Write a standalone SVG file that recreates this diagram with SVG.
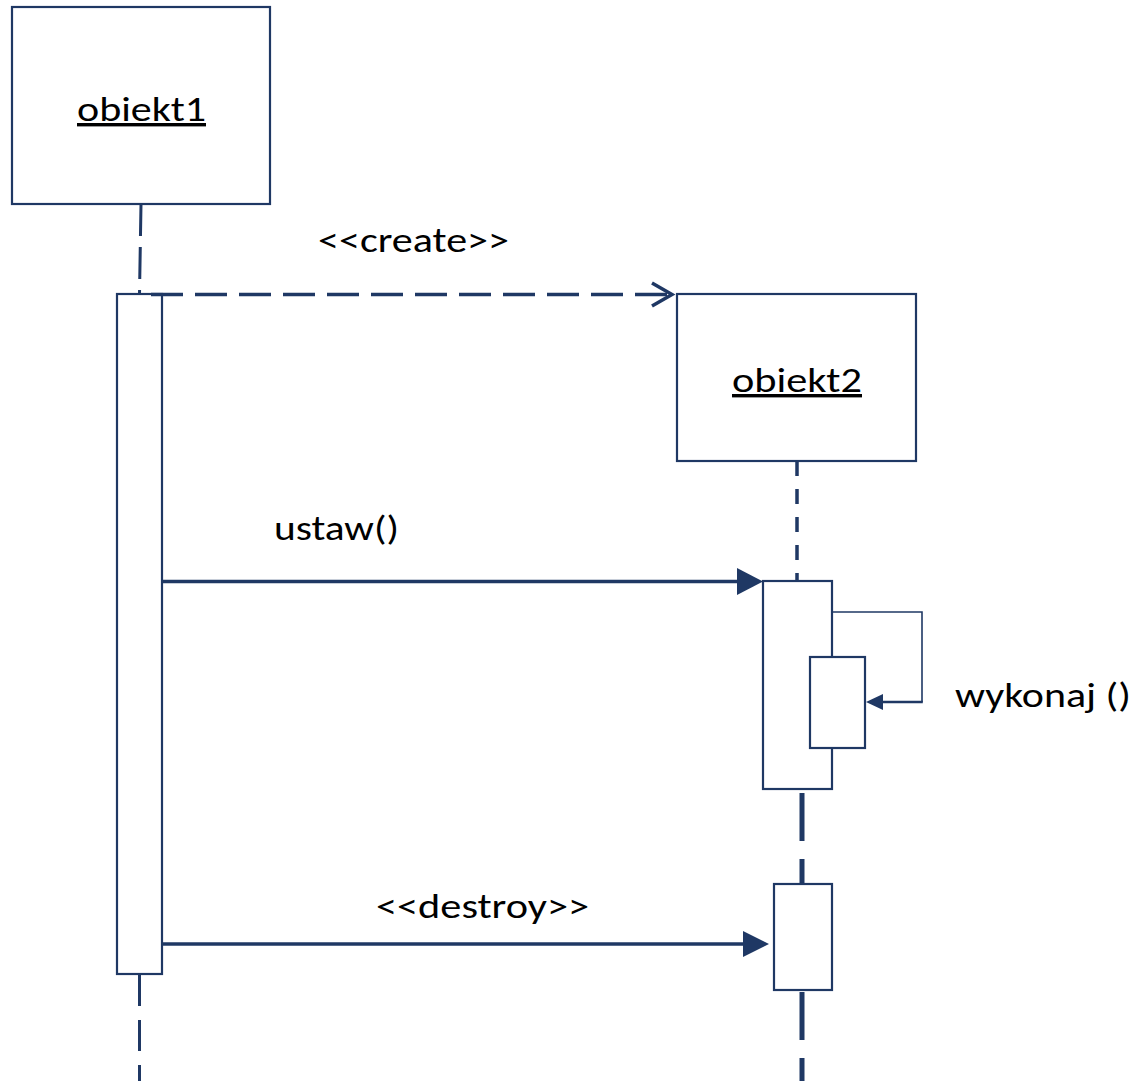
<svg xmlns="http://www.w3.org/2000/svg" width="1134" height="1081" viewBox="0 0 1134 1081">
  <style>
    .box { fill: #ffffff; stroke: #1f3864; stroke-width: 2.2; }
    .act { fill: #ffffff; stroke: #1f3864; stroke-width: 2.2; }
    .life { fill: none; stroke: #1f3864; }
    .msg { fill: none; stroke: #1f3864; stroke-width: 3.5; }
    .head { fill: #1f3864; stroke: none; }
    .lbl { font-family: Carlito, Lato, "Liberation Sans", sans-serif; font-size: 34px; fill: #000000; }
    .name { text-decoration: underline; }
  </style>

  <!-- lifelines (drawn first so activation bars sit on top) -->
  <g id="lifelines">
    <line class="life" x1="141" y1="204" x2="139.5" y2="294" stroke-width="3" stroke-dasharray="32 11"/>
    <line class="life" x1="139.5" y1="975" x2="139.5" y2="1081" stroke-width="3" stroke-dasharray="31 14"/>
    <line class="life" x1="797" y1="461" x2="797" y2="581" stroke-width="3.5" stroke-dasharray="15 13"/>
    <line class="life" x1="802" y1="793" x2="802" y2="884" stroke-width="5" stroke-dasharray="48 18"/>
    <line class="life" x1="802" y1="992" x2="802" y2="1081" stroke-width="5" stroke-dasharray="48 18"/>
  </g>

  <!-- object boxes -->
  <g id="obiekt1">
    <rect class="box" x="12" y="7" width="258" height="197"/>
    <text class="lbl name" x="77" y="121" textLength="129" lengthAdjust="spacingAndGlyphs">obiekt1</text>
  </g>

  <g id="obiekt2">
    <rect class="box" x="677" y="294" width="239" height="167"/>
    <text class="lbl name" x="732" y="392" textLength="130" lengthAdjust="spacingAndGlyphs">obiekt2</text>
  </g>

  <!-- activation bars -->
  <g id="activation1">
    <rect class="act" x="117" y="294" width="45" height="680"/>
  </g>
  <g id="activation2">
    <rect class="act" x="763" y="581" width="69" height="208"/>
  </g>
  <g id="activation2-nested">
    <rect class="act" x="810" y="657" width="55" height="91"/>
  </g>
  <g id="activation2-destroy">
    <rect class="act" x="774" y="884" width="58" height="106"/>
  </g>

  <!-- messages -->
  <g id="connectors">
    <!-- <<create>> : dashed, open arrowhead -->
    <line class="msg" x1="151" y1="294.5" x2="670" y2="294.5" stroke-dasharray="32 12"/>
    <polyline class="msg" points="652,283 672,294.5 652,306" stroke-linejoin="miter"/>

    <!-- ustaw() -->
    <line class="msg" x1="162" y1="581.5" x2="740" y2="581.5"/>
    <polygon class="head" points="763,581.5 737,568 737,595"/>

    <!-- wykonaj () : self call -->
    <polyline fill="none" stroke="#1f3864" stroke-width="1.6" points="832,612 922,612 922,702"/>
    <line stroke="#1f3864" stroke-width="2.6" x1="922.8" y1="702" x2="880" y2="702"/>
    <polygon class="head" points="866,702 883,694 883,710"/>

    <!-- <<destroy>> -->
    <line class="msg" x1="162" y1="944" x2="746" y2="944"/>
    <polygon class="head" points="769,944 743,931 743,957"/>
  </g>

  <!-- message labels -->
  <g id="labels">
    <text class="lbl" x="318" y="252" textLength="191" lengthAdjust="spacingAndGlyphs">&lt;&lt;create&gt;&gt;</text>
    <text class="lbl" x="274" y="540" textLength="125" lengthAdjust="spacingAndGlyphs">ustaw()</text>
    <text class="lbl" x="955" y="707" textLength="176" lengthAdjust="spacingAndGlyphs">wykonaj ()</text>
    <text class="lbl" x="376" y="918" textLength="213" lengthAdjust="spacingAndGlyphs">&lt;&lt;destroy&gt;&gt;</text>
  </g>
</svg>
